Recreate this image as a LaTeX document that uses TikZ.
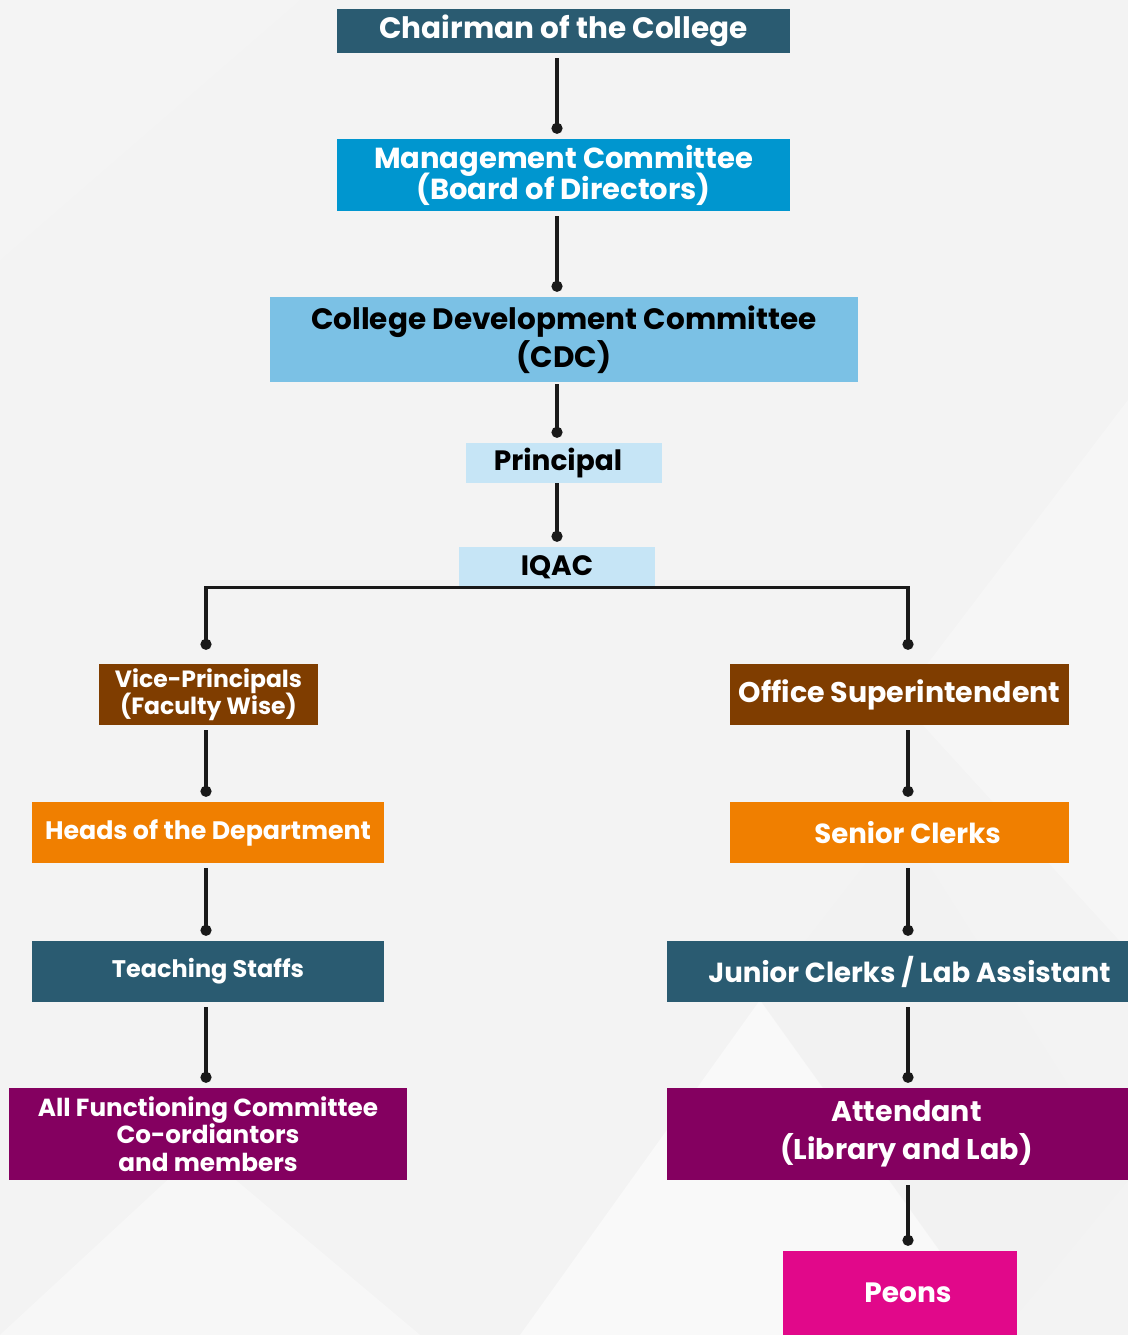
\documentclass[tikz,border=0pt]{standalone}
\usepackage{fontspec}
\setmainfont{Poppins}
\usetikzlibrary{arrows.meta}
\definecolor{deepteal}{HTML}{2A5B71}
\definecolor{skyblue}{HTML}{0096CF}
\definecolor{midblue}{HTML}{7BC1E5}
\definecolor{paleblue}{HTML}{C6E5F6}
\definecolor{rust}{HTML}{7F3D00}
\definecolor{tangerine}{HTML}{F07F00}
\definecolor{plum}{HTML}{840060}
\definecolor{hotpink}{HTML}{E1088A}
\definecolor{bgcol}{HTML}{F3F3F3}
\newcommand\tsize[2]{\fontsize{#1}{#2}\selectfont\bfseries\lineskiplimit=-100pt\lineskip=0pt}

\begin{document}
\begin{tikzpicture}[x=1pt, y=-1pt, every node/.style={inner sep=0pt, align=center},
  box/.style={rectangle, text=white},
  link/.style={line width=3.2pt, draw={black!90}, shorten <=5pt, shorten >=5pt, -{Circle[length=11pt]}}]
\useasboundingbox (0,0) rectangle (1128,1335);
% background
\fill[bgcol] (0,0) rectangle (1128,1335);
\fill[white, opacity=0.5] (520,1335) -- (760,1000) -- (1000,1335) -- cycle;
\fill[gray!10, opacity=0.4] (760,1000) -- (1000,1335) -- (1128,1180) -- (900,820) -- cycle;
\fill[white, opacity=0.4] (0,1335) -- (200,1150) -- (420,1335) -- cycle;
\fill[gray!8, opacity=0.4] (420,1335) -- (620,1080) -- (520,900) -- (300,1200) -- cycle;
\fill[white, opacity=0.3] (1128,400) -- (900,700) -- (1128,950) -- cycle;
\fill[gray!6, opacity=0.4] (0,0) -- (300,0) -- (0,260) -- cycle;
\coordinate (midx) at (557,0);
\coordinate (leftx) at (206,0);
\coordinate (rightx) at (908,0);
% centre column
\node[box, fill=deepteal, minimum width=453pt, minimum height=44pt, font=\tsize{29.5}{32}] (chair) at (563.5,31) {Chairman of the College};
\node[box, fill=skyblue, minimum width=453pt, minimum height=72pt, font=\tsize{29}{31}] (mgmt) at (563.5,175) {Management Committee\\(Board of Directors)};
\node[box, fill=midblue, text=black, minimum width=588pt, minimum height=85pt, font=\tsize{29.5}{38}] (cdc) at (564,339.5) {College Development Committee\\(CDC)};
\node[box, fill=paleblue, text=black, minimum width=196pt, minimum height=40pt, font=\tsize{28}{32}] (prin) at (564,463) {\hspace*{-12pt}Principal};
\node[box, fill=paleblue, text=black, minimum width=196pt, minimum height=40pt, font=\tsize{28}{32}] (iqac) at (557,567) {IQAC};
% left column
\node[box, fill=rust, minimum width=219pt, minimum height=61pt, font=\tsize{23.5}{27}] (vp) at (208.5,694.5) {Vice-Principals\\(Faculty Wise)};
\node[box, fill=tangerine, minimum width=352pt, minimum height=61pt, font=\tsize{25.3}{30}] (heads) at (208,832.5) {Heads of the Department};
\node[box, fill=deepteal, minimum width=352pt, minimum height=61pt, font=\tsize{24}{28}] (teach) at (208,971.5) {Teaching Staffs};
\node[box, fill=plum, minimum width=398pt, minimum height=92pt, font=\tsize{24.7}{27.5}] (allf) at (208,1134) {All Functioning Committee\\Co-ordiantors\\and members};
% right column
\node[box, fill=rust, minimum width=339pt, minimum height=61pt, font=\tsize{28.5}{32}] (office) at (899.5,694.5) {Office Superintendent};
\node[box, fill=tangerine, minimum width=339pt, minimum height=61pt, font=\tsize{27.6}{32}] (senior) at (899.5,832.5) {\hspace*{16pt}Senior Clerks};
\node[box, fill=deepteal, minimum width=461pt, minimum height=61pt, font=\tsize{27.6}{32}] (junior) at (897.5,971.5) {\hspace*{24pt}Junior Clerks / Lab Assistant};
\node[box, fill=plum, minimum width=461pt, minimum height=92pt, font=\tsize{28.5}{38}] (attend) at (897.5,1134) {\hspace*{18pt}Attendant\\\hspace*{18pt}(Library and Lab)};
\node[box, fill=hotpink, minimum width=234pt, minimum height=84pt, font=\tsize{28}{34}] (peons) at (900,1293) {\hspace*{16pt}Peons};
% connectors
\draw[link] (chair.south -| midx) -- (mgmt.north -| midx);
\draw[link] (mgmt.south -| midx) -- (cdc.north -| midx);
\draw[link, shorten <=2pt] (cdc.south -| midx) -- (prin.north -| midx);
\draw[link, shorten <=0pt] (prin.south -| midx) -- (iqac.north -| midx);
\draw[link, shorten <=0pt, shorten >=14pt] (iqac.south) -| (vp.north -| leftx);
\draw[link, shorten <=0pt, shorten >=14pt] (iqac.south) -| (office.north -| rightx);
\draw[link] (vp.south -| leftx) -- (heads.north -| leftx);
\draw[link] (heads.south -| leftx) -- (teach.north -| leftx);
\draw[link] (teach.south -| leftx) -- (allf.north -| leftx);
\draw[link] (office.south -| rightx) -- (senior.north -| rightx);
\draw[link] (senior.south -| rightx) -- (junior.north -| rightx);
\draw[link] (junior.south -| rightx) -- (attend.north -| rightx);
\draw[link] (attend.south -| rightx) -- (peons.north -| rightx);
\end{tikzpicture}
\end{document}
